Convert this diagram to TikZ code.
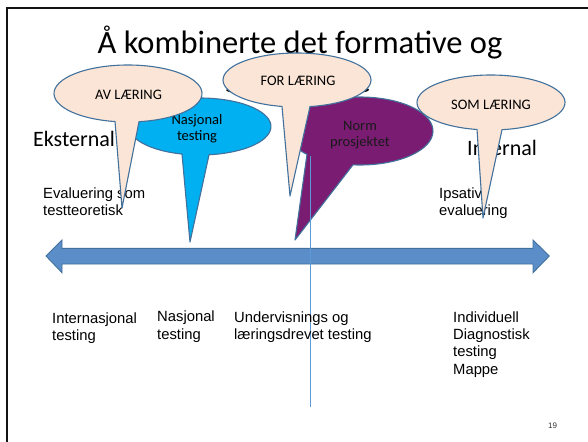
\documentclass[tikz,border=0pt]{standalone}
\usepackage{fontspec}
\setmainfont{Carlito}
\newfontfamily\arialf{Liberation Sans}
\definecolor{peach}{HTML}{FBE5D6}
\definecolor{edgeblue}{HTML}{41719C}
\definecolor{skyfill}{HTML}{00B0F0}
\definecolor{plum}{HTML}{7B1C73}
\definecolor{axisfill}{HTML}{5B8EC9}
\definecolor{vline}{HTML}{5B9BD5}
\newcommand\spbubble[8]{%
  \filldraw[#1] (#2,#3) ++(#6:#4 and #5)
    arc[start angle=#6, end angle=#7, x radius=#4, y radius=#5] -- #8 -- cycle;}
\begin{document}
\begin{tikzpicture}[x=1pt,y=-1pt,
  bubble/.style={draw=edgeblue, line width=1.1pt, line join=round},
  titlefont/.style={font=\fontsize{32.5}{35}\selectfont},
  sidefont/.style={font=\fontsize{22}{25}\selectfont},
  bubtext/.style={inner sep=0pt, font=\fontsize{14.5}{16.5}\selectfont, align=center},
  lbl/.style={inner sep=0pt, anchor=north west, align=left, font=\arialf\fontsize{14.8}{17.2}\selectfont}]
\useasboundingbox (0,0) rectangle (588,441);
% frame
\draw[line width=2.3pt, black!92] (7,445) -- (7,8.3) -- (592,8.3);
% title
\node[titlefont, anchor=base, inner sep=0pt] (title) at (300,54) {Å kombinerte det formative og};
\node[titlefont, anchor=base, inner sep=0pt] (title2) at (298,93) {summative};
% side texts
\node[sidefont, anchor=base west, inner sep=0pt] (ext) at (33,146) {Eksternal};
\node[sidefont, anchor=base west, inner sep=0pt] (int) at (467,155) {Internal};
\node[lbl] (evt) at (43,187.3) {Evaluering som\\testteoretisk};
\node[lbl] (ips) at (439,187.3) {Ipsativ\\evaluering};
% callouts
\spbubble{bubble, fill=skyfill}{200}{126.5}{71}{28.5}{104.7}{442.7}{(190,242)}
\node[bubtext, anchor=north] (nas) at (197,114) {Nasjonal\\testing};
\spbubble{bubble, fill=peach}{128}{93.5}{74}{28.5}{100.1}{441.45}{(122,208)}
\node[bubtext, anchor=base] (av) at (128.5,99.3) {AV LÆRING};
\spbubble{bubble, fill=plum}{360}{131}{73}{34}{136.6}{455.5}{(295,240)}
\node[bubtext, anchor=north, text=black!90] (norm) at (360,120.8) {Norm\\prosjektet};
\spbubble{bubble, fill=peach}{297}{80}{74}{27}{101.7}{439.9}{(290,196)}
\node[bubtext, anchor=base] (for) at (298,86) {FOR LÆRING};
\spbubble{bubble, fill=peach}{491}{102.5}{74}{27.5}{100.9}{441.45}{(483,218)}
\node[bubtext, anchor=base] (som) at (491,109.3) {SOM LÆRING};
% axis arrow
\filldraw[fill=axisfill, draw=edgeblue, line width=0.9pt, line join=miter]
  (46,256) -- (62,240) -- (62,248.3) -- (533,248.3) -- (533,240) -- (549.3,256)
  -- (533,272.7) -- (533,264) -- (62,264) -- (62,272.7) -- cycle;
% vertical line
\coordinate (vtop) at (310,156);
\coordinate (vbot) at (310,407);
\draw[vline, line width=0.9pt] (vtop) -- (vbot);
% bottom labels
\node[lbl] (l1) at (52,312.3) {Internasjonal\\testing};
\node[lbl] (l2) at (157,311) {Nasjonal\\testing};
\node[lbl] (l3) at (234,311.5) {Undervisnings og\\læringsdrevet testing};
\node[lbl] (l4) at (453,311.5) {Individuell\\Diagnostisk\\testing\\Mappe};
\node[inner sep=0pt, anchor=base west, font=\arialf\fontsize{8}{9}\selectfont, text=black!80] (pg) at (548,428) {19};
\end{tikzpicture}
\end{document}
